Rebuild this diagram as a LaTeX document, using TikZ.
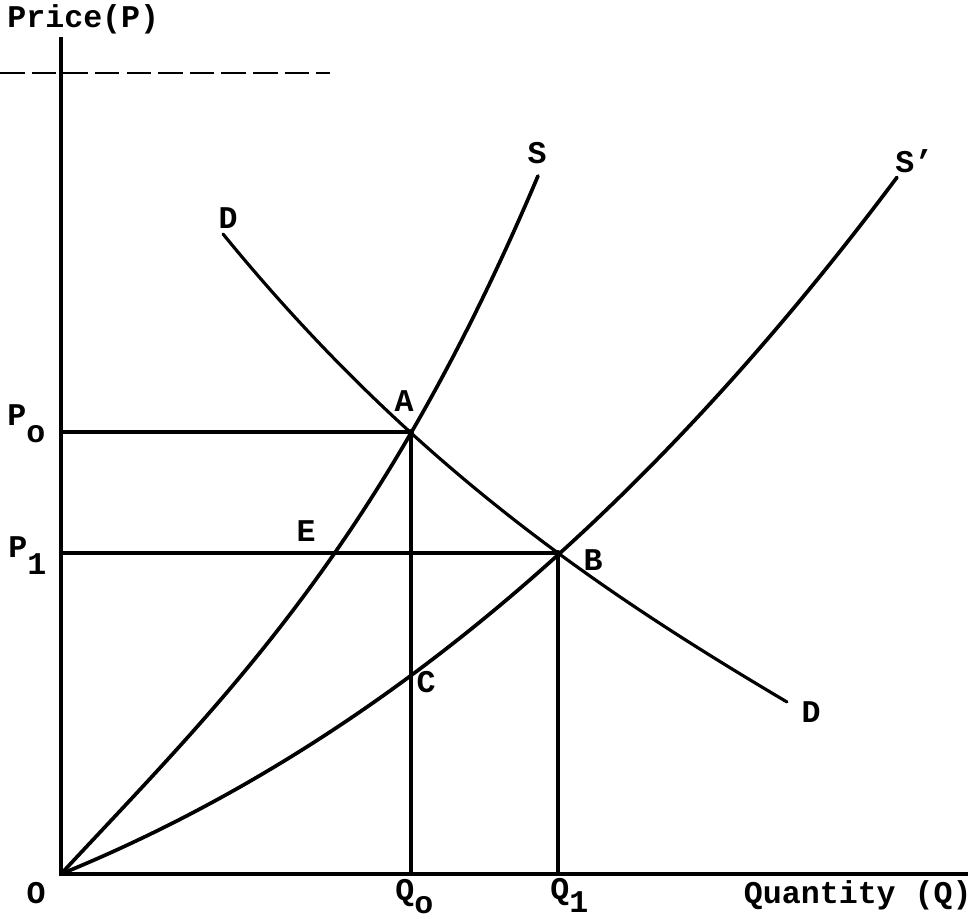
\documentclass[tikz,border=0pt]{standalone}
\usepackage{fontspec}
\setmainfont{Liberation Mono}
\begin{document}
\begin{tikzpicture}[x=0.02cm,y=-0.02cm,
  lbl/.style={font=\fontsize{18}{20}\selectfont\bfseries,inner sep=0pt},
  axis/.style={line width=2.3pt},
  curve/.style={line width=2.1pt,line cap=round,line join=round},
  dcurve/.style={line width=1.8pt,line cap=round,line join=round},
  guide/.style={line width=2.1pt},
  vguide/.style={line width=1.9pt},
  scanline/.style={line width=1.1pt,dash pattern=on 14pt off 4pt}]
\useasboundingbox (0,0) rectangle (975,919);
% key points
\coordinate (O) at (61,874);
\coordinate (ytop) at (61,37);
\coordinate (xend) at (968,874);
\coordinate (A) at (411,432);
\coordinate (B) at (558,553);
\coordinate (P0ax) at (61,432);
\coordinate (P1ax) at (61,553);
\coordinate (Q0ax) at (411,874);
\coordinate (Q1ax) at (558,874);
\coordinate (dl) at (0,73);
\coordinate (dr) at (330,73);
% scan dashed line
\draw[scanline] (dl) -- (dr);
% axes
\draw[axis] (ytop) -- (O) -- (xend);
% guide lines
\draw[guide] (P0ax) -- (A);
\draw[guide] (P1ax) -- (B);
\draw[vguide] (A) -- (Q0ax);
\draw[vguide] (B) -- (Q1ax);
% supply S
\draw[curve] plot[domain=0:4.77,samples=80,variable=\t]
  ({61+100*\t},{874-(107.62*\t-2.64*\t*\t+2.2553*\t*\t*\t)});
% supply S'
\draw[curve] plot[domain=0:8.36,samples=100,variable=\t]
  ({61+100*\t},{874-(40.869*\t+4.1321*\t*\t+0.11331*\t*\t*\t)});
% demand D
\draw[dcurve] plot[domain=0:5.64,samples=80,variable=\t]
  ({223+100*\t},{234+122.423*\t-9.766*\t*\t+0.4915*\t*\t*\t});
\fill (A) circle (3);
\fill (B) circle (3);
% labels
\node[lbl,anchor=base west] (lp) at (7,28) {Price(P)};
\node[lbl,anchor=base west] (lp0) at (7,425) {P\raisebox{-10pt}{o}};
\node[lbl,anchor=base west] (lp1) at (8,557) {P\raisebox{-10pt}{1}};
\node[lbl] (lo) at (36,893) {O};
\node[lbl,anchor=base west] (lq0) at (395,900) {Q\raisebox{-7.5pt}{o}};
\node[lbl,anchor=base west] (lq1) at (550,899) {Q\raisebox{-7.5pt}{1}};
\node[lbl,anchor=base east] (lq) at (972,903) {Quantity (Q)};
\node[lbl] (la) at (404,401) {A};
\node[lbl] (lb) at (593,560) {B};
\node[lbl] (lc) at (426,682) {C};
\node[lbl] (ld1) at (228,218) {D};
\node[lbl] (ld2) at (811,712) {D};
\node[lbl] (le) at (306,531) {E};
\node[lbl] (ls) at (537,153) {S};
\node[lbl,anchor=base west] (lsp) at (895,173) {S'};
\end{tikzpicture}
\end{document}
